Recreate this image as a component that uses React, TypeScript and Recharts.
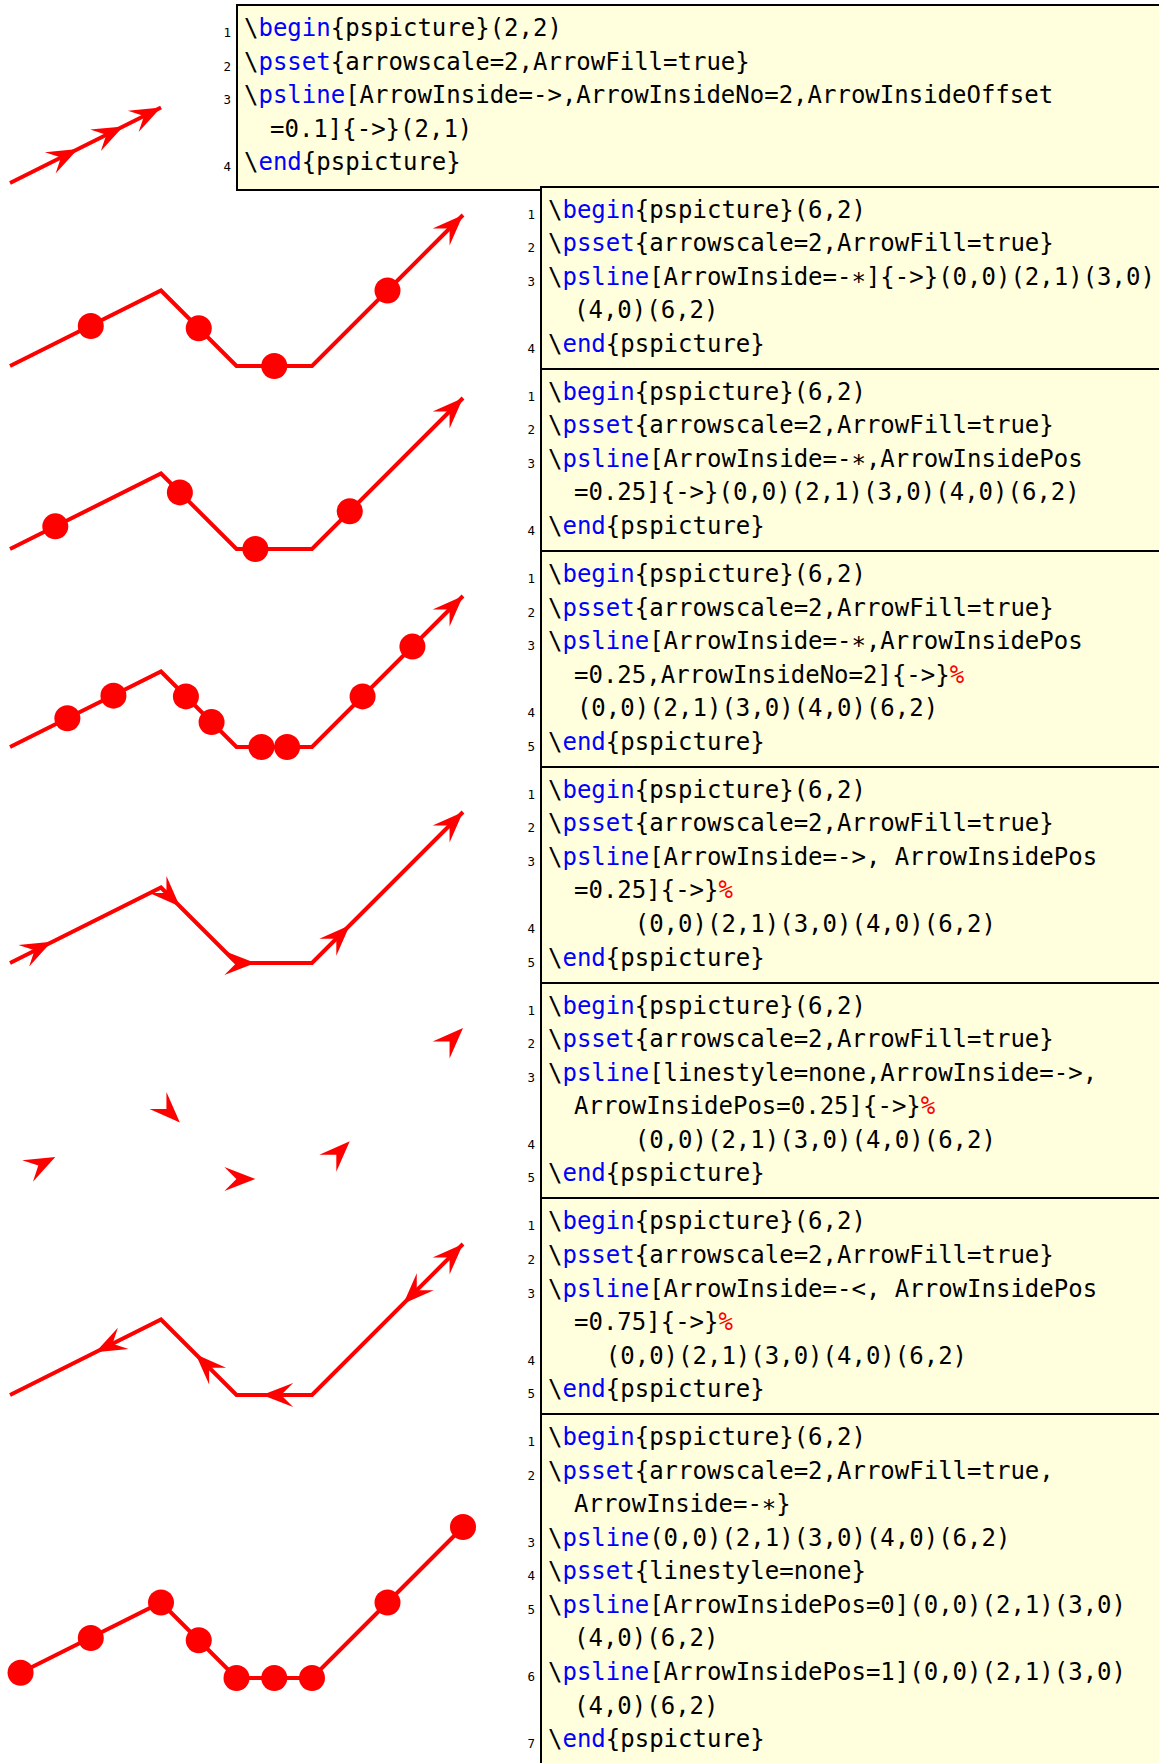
import { ComposedChart, Line, Scatter, XAxis, YAxis } from "recharts";

const RED = "#ff0000";
const BLUE = "#0000ff";
const PAPER = "#ffffdd";
const MONO = '"DejaVu Sans Mono", "Liberation Mono", monospace';

// \psline coordinates (0,0)(2,1)(3,0)(4,0)(6,2)
const vertexX = [0, 2, 3, 4, 6];
const vertexY = [0, 1, 0, 0, 2];
const pathPoints = vertexX.map((x, i) => ({ x, y: vertexY[i] }));
const shortPath = [
  { x: 0, y: 0 },
  { x: 2, y: 1 },
];

// markers, seg = segment of the path they sit on
const offsetArrows = [
  { x: 0.9, y: 0.45, seg: 0 },
  { x: 1.5, y: 0.75, seg: 0 },
];
const shortEnd = [{ x: 2, y: 1, seg: 0 }];
const endArrow = [{ x: 6, y: 2, seg: 3 }];
const midDots = [
  { x: 1.07, y: 0.53 },
  { x: 2.5, y: 0.5 },
  { x: 3.5, y: 0 },
  { x: 5, y: 1 },
];
const quarterDots = [
  { x: 0.6, y: 0.3 },
  { x: 2.25, y: 0.75 },
  { x: 3.25, y: 0 },
  { x: 4.5, y: 0.5 },
];
const thirdDots = [
  { x: 0.76, y: 0.38 },
  { x: 1.37, y: 0.68 },
  { x: 2.33, y: 0.67 },
  { x: 2.67, y: 0.33 },
  { x: 3.33, y: 0 },
  { x: 3.67, y: 0 },
  { x: 4.67, y: 0.67 },
  { x: 5.33, y: 1.33 },
];
const quarterArrows = [
  { x: 0.55, y: 0.28, seg: 0 },
  { x: 2.25, y: 0.75, seg: 1 },
  { x: 3.25, y: 0, seg: 2 },
  { x: 4.5, y: 0.5, seg: 3 },
];
const bareArrows = [
  { x: 0.6, y: 0.29, seg: 0 },
  { x: 2.25, y: 0.75, seg: 1 },
  { x: 3.25, y: 0, seg: 2 },
  { x: 4.5, y: 0.5, seg: 3 },
];
const backArrows = [
  { x: 1.5, y: 0.75, seg: 0 },
  { x: 2.75, y: 0.25, seg: 1 },
  { x: 3.75, y: 0, seg: 2 },
  { x: 5.5, y: 1.5, seg: 3 },
];
const vertexDots = [
  { x: 0.14, y: 0.07 },
  { x: 2, y: 1 },
  { x: 3, y: 0 },
  { x: 4, y: 0 },
  { x: 6, y: 2 },
];

// code listings, 0 = wrapped continuation line
const listing0 = [
  [1, "\\begin{pspicture}(2,2)"],
  [2, "\\psset{arrowscale=2,ArrowFill=true}"],
  [3, "\\psline[ArrowInside=->,ArrowInsideNo=2,ArrowInsideOffset"],
  [0, "=0.1]{->}(2,1)"],
  [4, "\\end{pspicture}"],
];
const listing1 = [
  [1, "\\begin{pspicture}(6,2)"],
  [2, "\\psset{arrowscale=2,ArrowFill=true}"],
  [3, "\\psline[ArrowInside=-\u2217]{->}(0,0)(2,1)(3,0)"],
  [0, "(4,0)(6,2)"],
  [4, "\\end{pspicture}"],
];
const listing2 = [
  [1, "\\begin{pspicture}(6,2)"],
  [2, "\\psset{arrowscale=2,ArrowFill=true}"],
  [3, "\\psline[ArrowInside=-\u2217,ArrowInsidePos"],
  [0, "=0.25]{->}(0,0)(2,1)(3,0)(4,0)(6,2)"],
  [4, "\\end{pspicture}"],
];
const listing3 = [
  [1, "\\begin{pspicture}(6,2)"],
  [2, "\\psset{arrowscale=2,ArrowFill=true}"],
  [3, "\\psline[ArrowInside=-\u2217,ArrowInsidePos"],
  [0, "=0.25,ArrowInsideNo=2]{->}%"],
  [4, "  (0,0)(2,1)(3,0)(4,0)(6,2)"],
  [5, "\\end{pspicture}"],
];
const listing4 = [
  [1, "\\begin{pspicture}(6,2)"],
  [2, "\\psset{arrowscale=2,ArrowFill=true}"],
  [3, "\\psline[ArrowInside=->, ArrowInsidePos"],
  [0, "=0.25]{->}%"],
  [4, "      (0,0)(2,1)(3,0)(4,0)(6,2)"],
  [5, "\\end{pspicture}"],
];
const listing5 = [
  [1, "\\begin{pspicture}(6,2)"],
  [2, "\\psset{arrowscale=2,ArrowFill=true}"],
  [3, "\\psline[linestyle=none,ArrowInside=->,"],
  [0, "ArrowInsidePos=0.25]{->}%"],
  [4, "      (0,0)(2,1)(3,0)(4,0)(6,2)"],
  [5, "\\end{pspicture}"],
];
const listing6 = [
  [1, "\\begin{pspicture}(6,2)"],
  [2, "\\psset{arrowscale=2,ArrowFill=true}"],
  [3, "\\psline[ArrowInside=-<, ArrowInsidePos"],
  [0, "=0.75]{->}%"],
  [4, "    (0,0)(2,1)(3,0)(4,0)(6,2)"],
  [5, "\\end{pspicture}"],
];
const listing7 = [
  [1, "\\begin{pspicture}(6,2)"],
  [2, "\\psset{arrowscale=2,ArrowFill=true,"],
  [0, "ArrowInside=-\u2217}"],
  [3, "\\psline(0,0)(2,1)(3,0)(4,0)(6,2)"],
  [4, "\\psset{linestyle=none}"],
  [5, "\\psline[ArrowInsidePos=0](0,0)(2,1)(3,0)"],
  [0, "(4,0)(6,2)"],
  [6, "\\psline[ArrowInsidePos=1](0,0)(2,1)(3,0)"],
  [0, "(4,0)(6,2)"],
  [7, "\\end{pspicture}"],
];

const UNIT = 75.5;
const LINE_H = 33.55;
const ARROW_LEN = 31;
const ARROW_HALF = 12;
const ARROW_NOTCH = 19;

// screen direction of a path segment (x and y scales are equal)
function segDir(seg: number) {
  const dx = vertexX[seg + 1] - vertexX[seg];
  const dy = -(vertexY[seg + 1] - vertexY[seg]);
  const len = Math.hypot(dx, dy);
  return [dx / len, dy / len];
}

function arrowPath(tx: number, ty: number, ux: number, uy: number) {
  const nx = -uy;
  const ny = ux;
  const bx = tx - ARROW_LEN * ux;
  const by = ty - ARROW_LEN * uy;
  return `M${tx},${ty} L${bx + ARROW_HALF * nx},${by + ARROW_HALF * ny} L${
    tx - ARROW_NOTCH * ux
  },${ty - ARROW_NOTCH * uy} L${bx - ARROW_HALF * nx},${by - ARROW_HALF * ny} Z`;
}

const forwardHead = (props: any) => {
  const { cx, cy, payload } = props;
  const [ux, uy] = segDir(payload.seg);
  return <path d={arrowPath(cx, cy, ux, uy)} fill={RED} />;
};

// "-<": base of the head sits on the point, tip looks back
const backHead = (props: any) => {
  const { cx, cy, payload } = props;
  const [dx, dy] = segDir(payload.seg);
  const ux = -dx;
  const uy = -dy;
  return (
    <path d={arrowPath(cx + ARROW_LEN * ux, cy + ARROW_LEN * uy, ux, uy)} fill={RED} />
  );
};

const bigDot = (props: any) => <circle cx={props.cx} cy={props.cy} r={13} fill={RED} />;

interface PanelProps {
  base: number;
  line?: { x: number; y: number }[];
  dots?: { x: number; y: number }[];
  arrows?: { x: number; y: number; seg: number }[];
  back?: { x: number; y: number; seg: number }[];
  ends?: { x: number; y: number; seg: number }[];
}

function Drawing({ base, line, dots, arrows, back, ends }: PanelProps) {
  const top = 30;
  return (
    <div style={{ position: "absolute", left: 0, top: base - 2 * UNIT - top }}>
      <ComposedChart
        width={10 + 6 * UNIT + 37}
        height={top + 2 * UNIT + 30}
        margin={{ top, right: 37, bottom: 30, left: 10 }}
      >
        <XAxis type="number" dataKey="x" domain={[0, 6]} hide />
        <YAxis type="number" dataKey="y" domain={[0, 2]} hide />
        {line && (
          <Line
            data={line}
            dataKey="y"
            type="linear"
            stroke={RED}
            strokeWidth={4}
            strokeLinejoin="miter"
            dot={false}
            activeDot={false}
            isAnimationActive={false}
          />
        )}
        {dots && <Scatter data={dots} shape={bigDot} isAnimationActive={false} />}
        {arrows && <Scatter data={arrows} shape={forwardHead} isAnimationActive={false} />}
        {back && <Scatter data={back} shape={backHead} isAnimationActive={false} />}
        {ends && <Scatter data={ends} shape={forwardHead} isAnimationActive={false} />}
      </ComposedChart>
    </div>
  );
}

function CodeText({ text }: { text: string }) {
  const parts = text.split(/(\\(?:begin|psset|psline|end)|%)/);
  return (
    <>
      {parts.map((p, i) => {
        if (/^\\(begin|psset|psline|end)$/.test(p)) {
          return (
            <span key={i}>
              {"\\"}
              <span style={{ color: BLUE }}>{p.slice(1)}</span>
            </span>
          );
        }
        if (p === "%") {
          return (
            <span key={i} style={{ color: RED }}>
              %
            </span>
          );
        }
        return <span key={i}>{p}</span>;
      })}
    </>
  );
}

function CodeBox({ lines, style }: { lines: any[]; style?: any }) {
  return (
    <div
      style={{
        border: "2px solid #000",
        background: PAPER,
        paddingTop: 6,
        paddingBottom: 6.5,
        fontFamily: MONO,
        fontSize: 24,
        color: "#000",
        ...style,
      }}
    >
      {lines.map(([n, text], i) => (
        <div
          key={i}
          style={{
            position: "relative",
            height: LINE_H,
            lineHeight: `${LINE_H}px`,
            paddingLeft: n ? 6 : 32,
            whiteSpace: "pre",
          }}
        >
          {n ? (
            <span
              style={{
                position: "absolute",
                right: "calc(100% + 7px)",
                top: 4,
                fontSize: 12.5,
              }}
            >
              {n}
            </span>
          ) : null}
          <CodeText text={text} />
        </div>
      ))}
    </div>
  );
}

export default function App() {
  const panels: PanelProps[] = [
    { base: 182.7, line: shortPath, arrows: offsetArrows, ends: shortEnd },
    { base: 366, line: pathPoints, dots: midDots, ends: endArrow },
    { base: 548.6, line: pathPoints, dots: quarterDots, ends: endArrow },
    { base: 746.5, line: pathPoints, dots: thirdDots, ends: endArrow },
    { base: 963, line: pathPoints, arrows: quarterArrows, ends: endArrow },
    { base: 1179.3, arrows: bareArrows, ends: endArrow },
    { base: 1394.5, line: pathPoints, back: backArrows, ends: endArrow },
    { base: 1678.4, line: pathPoints, dots: [...midDots, ...vertexDots] },
  ];
  const stacked = [listing1, listing2, listing3, listing4, listing5, listing6, listing7];

  return (
    <div
      style={{
        position: "absolute",
        left: 0,
        top: 0,
        width: 1159,
        height: 1763,
        overflow: "hidden",
        background: "#fff",
      }}
    >
      {panels.map((p, i) => (
        <Drawing key={i} {...p} />
      ))}

      <CodeBox
        lines={listing0}
        style={{ position: "absolute", left: 236, top: 3.5, width: 1000, paddingTop: 6.5, paddingBottom: 9 }}
      />

      <div style={{ position: "absolute", left: 540, top: 185.6, width: 700 }}>
        {stacked.map((lines, i) => (
          <CodeBox key={i} lines={lines} style={{ marginTop: i === 0 ? 0 : -2 }} />
        ))}
      </div>
    </div>
  );
}
